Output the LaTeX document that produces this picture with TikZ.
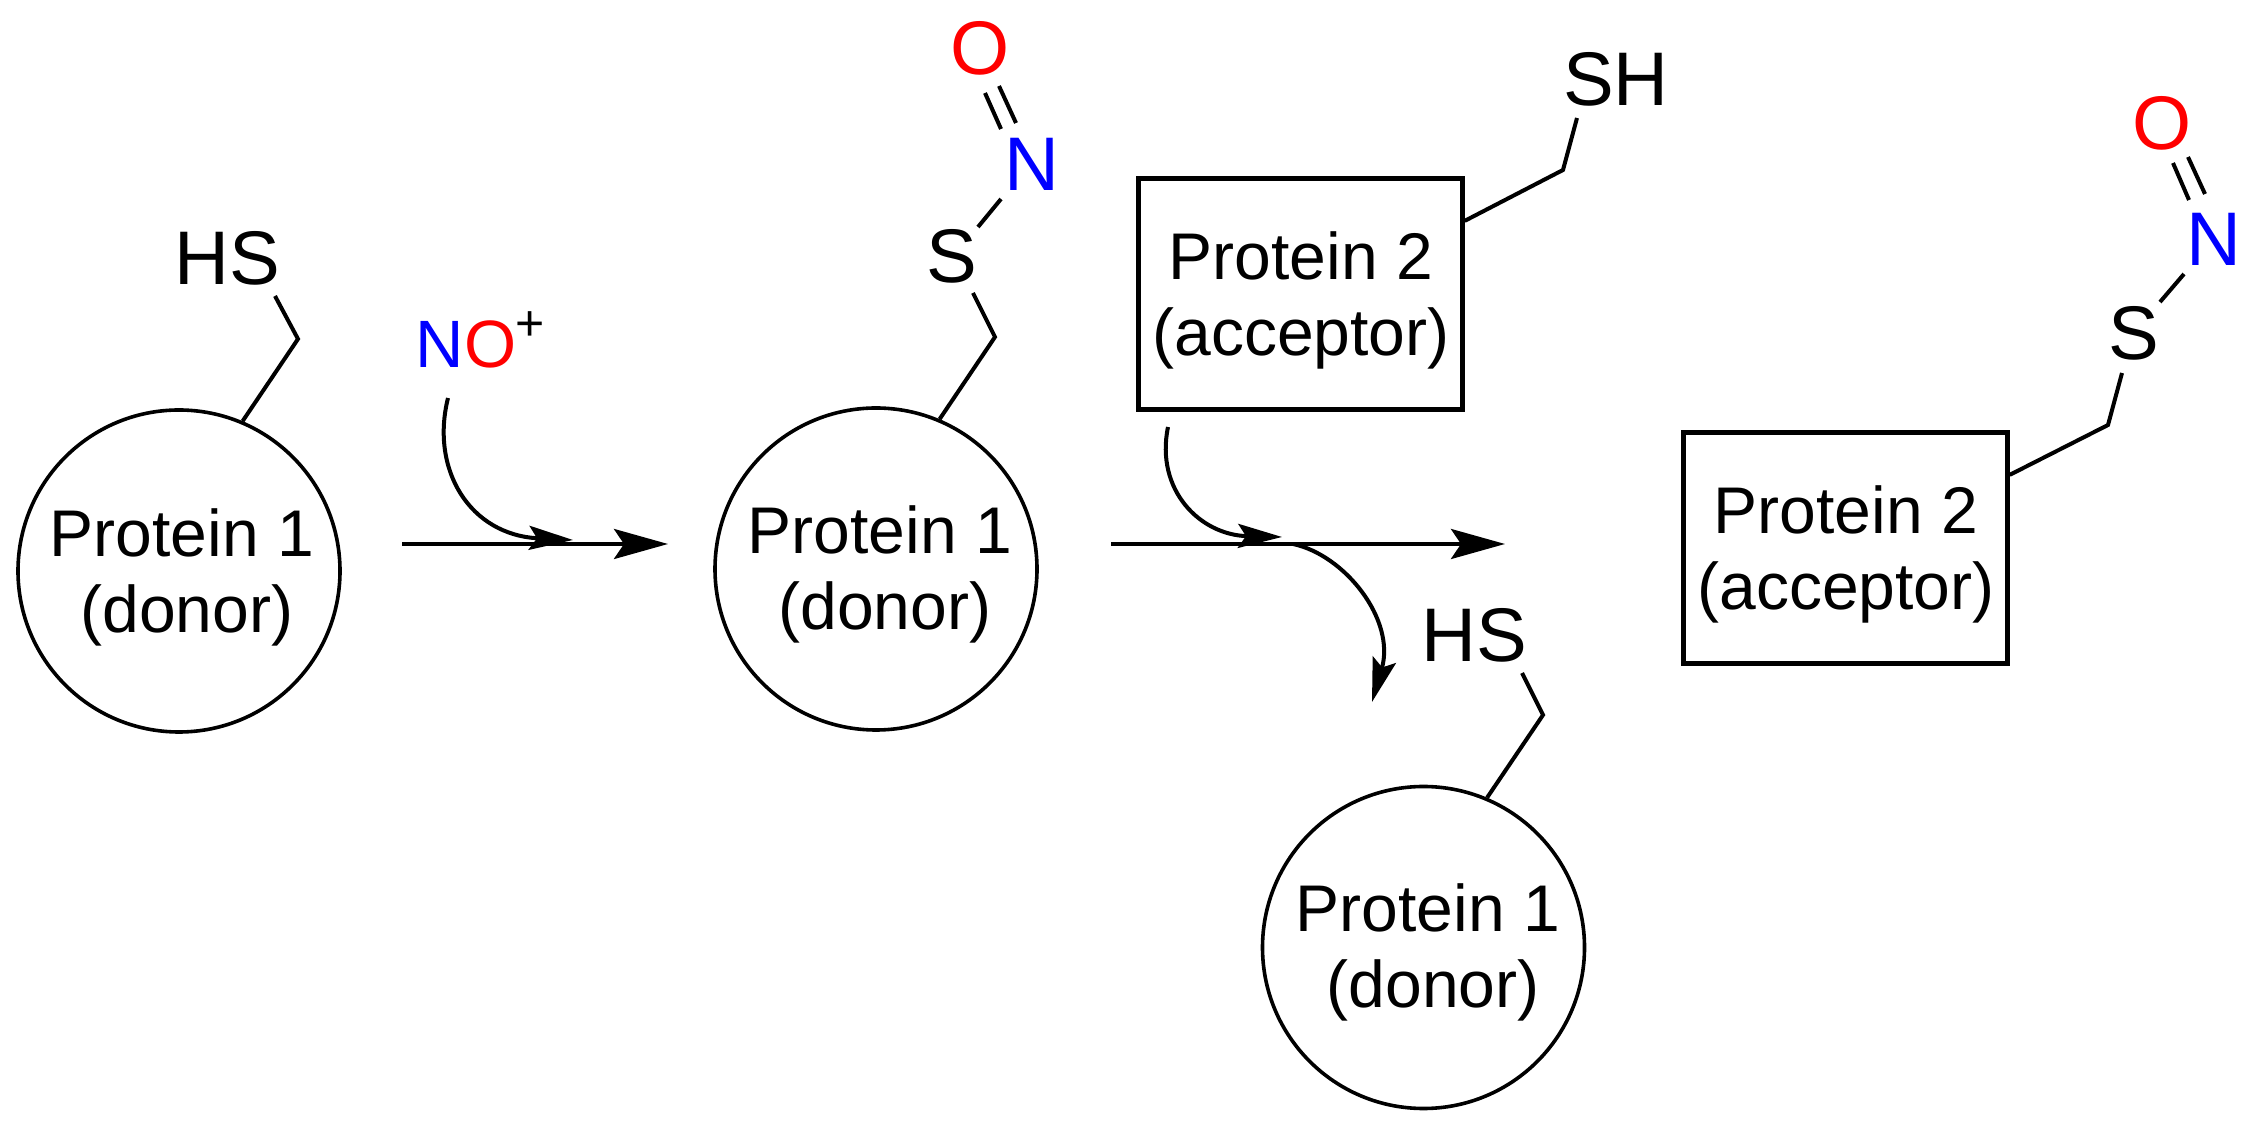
\documentclass[tikz,border=0pt]{standalone}
\usepackage{fontspec}
\setmainfont{Liberation Sans}
\usetikzlibrary{arrows.meta,positioning}
\tikzset{
  chem/.style={line width=2pt,line join=miter},
  rxn/.style={line width=2pt,-{Stealth[length=27pt,width=15pt,inset=5pt]}},
  rxnside/.style={line width=2pt,-{Stealth[length=22pt,width=12pt,inset=4pt]}},
  atom/.style={inner sep=0pt,font=\fontsize{38}{38}\selectfont},
  prot/.style={draw,circle,line width=1.8pt,minimum size=161pt,inner sep=0pt},
  protbox/.style={draw,line width=2.2pt,minimum width=162pt,minimum height=115.5pt,inner sep=0pt},
  protname/.style={inner sep=0pt,align=center,font=\fontsize{33}{38}\selectfont}
}
\newcommand{\donor}{Protein 1\\\hspace*{5pt}(donor)}
\newcommand{\acceptor}{Protein 2\\(acceptor)}
\begin{document}
\begin{tikzpicture}[x=0.5pt,y=-0.5pt]
  \useasboundingbox (0,0) rectangle (2256,1127);

  % first donor
  \node[prot] (p1a) at (179,571) {};
  \node[protname] (t1a) at (182,577) {\donor};
  \node[atom] (hs1) at (227,258) {HS};
  \coordinate (k1) at (298,339);
  \coordinate (b1) at (275,296);
  \draw[chem] (p1a.67) -- (k1) -- (b1);

  \node[inner sep=0pt,font=\fontsize{33.5}{34}\selectfont] (no) at (466,344) {\textcolor{blue}{N}\textcolor{red}{O}};
  \node[inner sep=0pt,font=\fontsize{25}{25}\selectfont] (plus) at (530,326) {+};

  % first step
  \coordinate (a1s) at (402,544);
  \coordinate (a1e) at (668,544);
  \draw[rxn] (a1s) -- (a1e);
  \coordinate (c1s) at (448,398);
  \coordinate (c1e) at (573,540);
  \draw[rxnside] (c1s) .. controls (430,470) and (470,535) .. (c1e);

  % nitrosylated donor
  \node[prot] (p1b) at (876,569) {};
  \node[protname] (t1b) at (880,574) {\donor};
  \node[atom] (s1) at (952,256) {S};
  \node[atom,text=blue] (n1) at (1032,164) {N};
  \node[atom,text=red] (o1) at (980,48) {O};
  \coordinate (k2) at (995,337);
  \coordinate (b2) at (973,293);
  \draw[chem] (p1b.67) -- (k2) -- (b2);
  \coordinate (b3) at (978,227);
  \coordinate (b4) at (1001,199);
  \draw[chem] (b3) -- (b4);
  \coordinate (d1) at (1001,129);
  \coordinate (d2) at (985,93);
  \coordinate (d3) at (1016,123);
  \coordinate (d4) at (999,86);
  \draw[chem] (d1) -- (d2) (d3) -- (d4);

  % acceptor with free thiol
  \node[protbox] (p2a) at (1300.5,294) {};
  \node[protname] (t2a) at (1301,300) {\acceptor};
  \node[atom] (sh1) at (1616,79) {SH};
  \coordinate (k3) at (1563,170);
  \coordinate (b5) at (1577,118);
  \draw[chem] (p2a.24) -- (k3) -- (b5);

  % second step
  \coordinate (a2s) at (1111,544);
  \coordinate (a2e) at (1505,544);
  \draw[rxn] (a2s) -- (a2e);
  \coordinate (c2s) at (1168,427);
  \coordinate (c2e) at (1282,537);
  \draw[rxnside] (c2s) .. controls (1155,490) and (1200,535) .. (c2e);
  \coordinate (c3s) at (1293,544);
  \coordinate (c3e) at (1372,702);
  \draw[rxnside] (c3s) .. controls (1345,555) and (1396,620) .. (c3e);

  % released donor
  \node[prot] (p1c) at (1423.5,947.5) {};
  \node[protname] (t1c) at (1428,952) {\donor};
  \node[atom] (hs2) at (1474,635) {HS};
  \coordinate (k4) at (1543,715);
  \coordinate (b6) at (1522,673);
  \draw[chem] (p1c.67) -- (k4) -- (b6);

  % nitrosylated acceptor
  \node[protbox] (p2b) at (1845.5,548) {};
  \node[protname] (t2b) at (1846,554) {\acceptor};
  \node[atom] (s2) at (2134,333) {S};
  \node[atom,text=blue] (n2) at (2214,239) {N};
  \node[atom,text=red] (o2) at (2162,123) {O};
  \coordinate (k5) at (2108,425);
  \coordinate (b7) at (2122,373);
  \draw[chem] (p2b.24) -- (k5) -- (b7);
  \coordinate (b8) at (2160,302);
  \coordinate (b9) at (2184,274);
  \draw[chem] (b8) -- (b9);
  \coordinate (d5) at (2189,200);
  \coordinate (d6) at (2173,163);
  \coordinate (d7) at (2205,194);
  \coordinate (d8) at (2188,157);
  \draw[chem] (d5) -- (d6) (d7) -- (d8);
\end{tikzpicture}
\end{document}
